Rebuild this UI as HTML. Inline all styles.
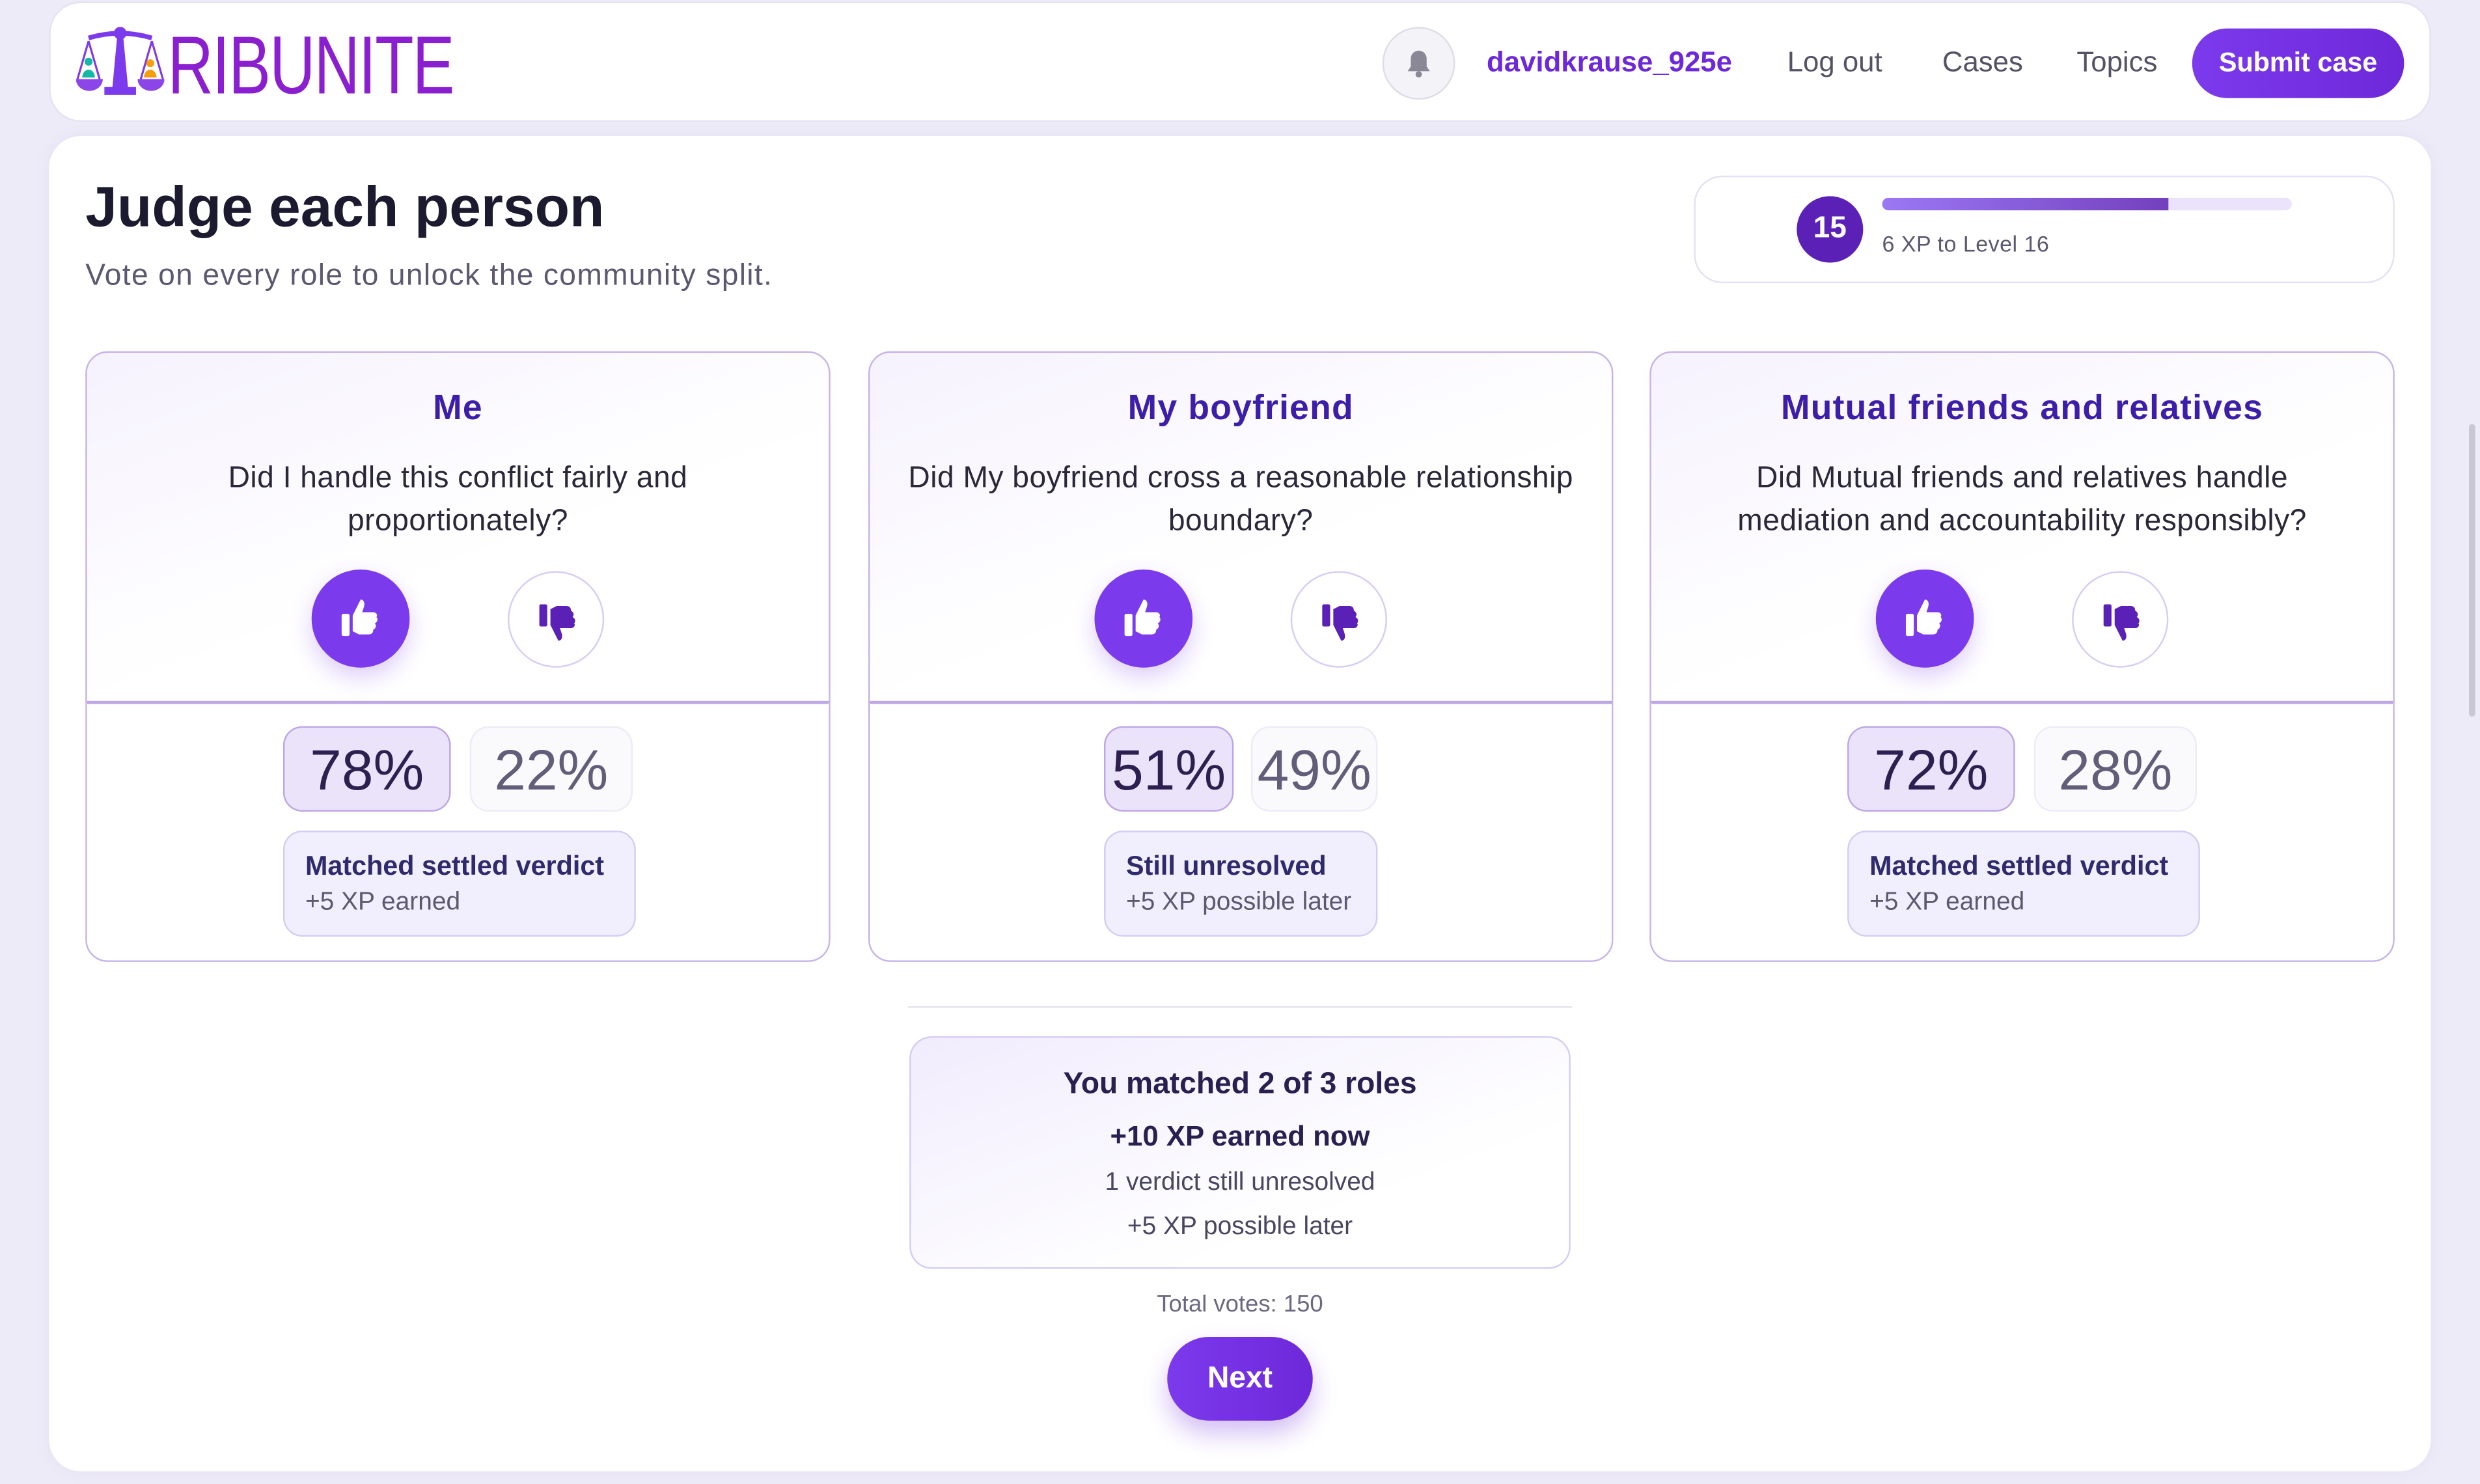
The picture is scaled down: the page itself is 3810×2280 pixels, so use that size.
<!DOCTYPE html>
<html><head><meta charset="utf-8"><style>
*{box-sizing:border-box;margin:0;padding:0}
html,body{width:3810px;height:2280px;overflow:hidden;background:#eeebf8;font-family:"Liberation Sans",sans-serif}
#s{position:absolute;left:0;top:0;width:1568px;height:938px;transform-origin:0 0;transform:scale(2.42985,2.4307);background:#eeebf8}
.a{position:absolute}
.hdr{left:31px;top:1px;width:1506px;height:76px;background:#fff;border-radius:20px;border:1px solid #e6e2f3}
.main{left:31px;top:86px;width:1506px;height:844px;background:#fff;border-radius:20px;box-shadow:0 0 10px rgba(120,100,200,.08)}
.nav{top:29px;font-size:18px;color:#555266}
.card{width:471px;height:386px;top:222px;border:1.5px solid #c6b3e8;border-radius:14px;background:linear-gradient(160deg,#f6f2fe 0%,#fff 40%);overflow:hidden}
.card .div{position:absolute;left:0;right:0;top:220px;height:1.5px;background:#bea8e4}
.card .bot{position:absolute;left:0;right:0;top:221px;bottom:0;background:#fff}
.ct{position:absolute;left:0;right:0;top:22px;text-align:center;font-size:22px;font-weight:bold;color:#3d1ea8;letter-spacing:.5px}
.cq{position:absolute;left:6px;right:6px;top:66px;text-align:center;font-size:19px;line-height:27px;color:#2a2838;letter-spacing:.2px}
.up{position:absolute;width:62px;height:62px;border-radius:50%;background:#7c3aed;top:137px;box-shadow:0 6px 14px rgba(124,58,237,.25)}
.dn{position:absolute;width:61px;height:61px;border-radius:50%;background:#fff;border:1.5px solid #d8cbf6;top:138px}
.up svg,.dn svg{position:absolute;left:15px;top:15px}
.pa{position:absolute;top:236px;height:54px;border-radius:12px;background:#ebe3fa;border:1.5px solid #bda6e6;font-size:36px;color:#2d1f50;text-align:center;line-height:54px}
.pb{position:absolute;top:236px;height:54px;border-radius:12px;background:#fafafd;border:1.5px solid #eeeaf8;font-size:36px;color:#625d78;text-align:center;line-height:54px}
.vb{position:absolute;top:302px;height:67px;border-radius:12px;background:#f1eefd;border:1.5px solid #d5ccf6;padding:12px 0 0 13px}
.vb b{display:block;font-size:17px;color:#2e2a6b;font-weight:bold}
.vb span{display:block;font-size:16px;color:#5c5870;margin-top:4px}
</style></head><body><div id="s">
<div class="a hdr"></div>
<div class="a" style="left:48px;top:14px;width:240px;height:50px">
<svg width="56" height="48" viewBox="0 0 56 48" style="position:absolute;left:0;top:2px"><path d="M8 8 Q28 2 48 8" stroke="#7c3aed" stroke-width="3" fill="none"/><circle cx="28" cy="5" r="4" fill="#7c3aed"/><path d="M26 8h4l3 32h-10z" fill="#7c3aed"/><rect x="18" y="39" width="20" height="5" fill="#7c3aed"/><path d="M8 10 L1 34 M8 10 L15 34 M48 10 L41 34 M48 10 L55 34" stroke="#7c3aed" stroke-width="1.3"/><path d="M0 34h17a8 7 0 0 1-17 0z" fill="#8b45e8"/><path d="M39 34h17a8 7 0 0 1-17 0z" fill="#8b45e8"/><circle cx="8" cy="23" r="2.5" fill="#14b8a6"/><path d="M4 33a4 5 0 0 1 8 0z" fill="#14b8a6"/><circle cx="47" cy="24" r="2.5" fill="#f59e0b"/><path d="M43 33a4 5 0 0 1 8 0z" fill="#f59e0b"/></svg>
<div style="position:absolute;left:58px;top:0;font-family:'Liberation Sans Narrow','Liberation Sans',sans-serif;font-size:52px;line-height:56px;color:#8a1fd0;transform:scaleX(.77);transform-origin:0 0;letter-spacing:-1px">RIBUNITE</div>
</div>
<div class="a" style="left:874px;top:17px;width:46px;height:46px;border-radius:50%;background:#f4f3f8;border:1px solid #dedce6"><svg width="16" height="18" viewBox="0 0 16 18" style="position:absolute;left:14px;top:13px"><path d="M8 1a5 5 0 0 1 5 5v5l2 3H1l2-3V6a5 5 0 0 1 5-5z" fill="#8a8797"/><circle cx="8" cy="16" r="2" fill="#8a8797"/></svg></div>
<div class="a nav" style="left:940px;color:#6d28d9;font-weight:bold">davidkrause_925e</div>
<div class="a nav" style="left:1130px">Log out</div>
<div class="a nav" style="left:1228px">Cases</div>
<div class="a nav" style="left:1313px">Topics</div>
<div class="a" style="left:1386px;top:18px;width:134px;height:44px;border-radius:22px;background:linear-gradient(90deg,#7c3aed,#6d28d9);color:#fff;font-weight:bold;font-size:17px;text-align:center;line-height:44px">Submit case</div>

<div class="a main"></div>
<div class="a" style="left:54px;top:110px;font-size:36px;font-weight:bold;color:#1c1a2e">Judge each person</div>
<div class="a" style="left:54px;top:164px;font-size:19px;color:#5c5870;letter-spacing:.55px">Vote on every role to unlock the community split.</div>

<div class="a" style="left:1071px;top:111px;width:443px;height:68px;border:1.5px solid #e5e0f5;border-radius:18px;background:#fff"></div>
<div class="a" style="left:1136px;top:124px;width:42px;height:42px;border-radius:50%;background:#5b21b6;color:#fff;font-weight:bold;font-size:19px;text-align:center;line-height:42px">15</div>
<div class="a" style="left:1190px;top:125px;width:259px;height:8px;border-radius:4px;background:#ebe3fc;overflow:hidden"><div style="width:181px;height:8px;background:linear-gradient(90deg,#9b78f5,#7440bd)"></div></div>
<div class="a" style="left:1190px;top:146px;font-size:14px;color:#5c5870;letter-spacing:.2px">6 XP to Level 16</div>

<div class="a card" style="left:54px">
<div class="bot"></div><div class="div"></div>
<div class="ct">Me</div>
<div class="cq">Did I handle this conflict fairly and<br>proportionately?</div>
<div class="up" style="left:142px"><svg width="32" height="32" viewBox="0 0 32 32"><rect x="4" y="13" width="5" height="14" rx="1" fill="#fff"/><path d="M11 14l5-10c2 0 3 2 2 5l-1 3h7c2 0 3 2 2 3 1 1 1 3-1 4 1 1 1 3-1 4 0 2-1 3-3 3h-6l-4-2z" fill="#fff"/></svg></div>
<div class="dn" style="left:266px"><svg width="32" height="32" viewBox="0 0 32 32" style="transform:scaleY(-1)"><rect x="4" y="13" width="5" height="14" rx="1" fill="#5b21b6"/><path d="M11 14l5-10c2 0 3 2 2 5l-1 3h7c2 0 3 2 2 3 1 1 1 3-1 4 1 1 1 3-1 4 0 2-1 3-3 3h-6l-4-2z" fill="#5b21b6"/></svg></div>
<div class="pa" style="left:124px;width:106px">78%</div>
<div class="pb" style="left:242px;width:103px">22%</div>
<div class="vb" style="left:124px;width:223px"><b>Matched settled verdict</b><span>+5 XP earned</span></div>
</div>

<div class="a card" style="left:549px">
<div class="bot"></div><div class="div"></div>
<div class="ct">My boyfriend</div>
<div class="cq">Did My boyfriend cross a reasonable relationship<br>boundary?</div>
<div class="up" style="left:142px"><svg width="32" height="32" viewBox="0 0 32 32"><rect x="4" y="13" width="5" height="14" rx="1" fill="#fff"/><path d="M11 14l5-10c2 0 3 2 2 5l-1 3h7c2 0 3 2 2 3 1 1 1 3-1 4 1 1 1 3-1 4 0 2-1 3-3 3h-6l-4-2z" fill="#fff"/></svg></div>
<div class="dn" style="left:266px"><svg width="32" height="32" viewBox="0 0 32 32" style="transform:scaleY(-1)"><rect x="4" y="13" width="5" height="14" rx="1" fill="#5b21b6"/><path d="M11 14l5-10c2 0 3 2 2 5l-1 3h7c2 0 3 2 2 3 1 1 1 3-1 4 1 1 1 3-1 4 0 2-1 3-3 3h-6l-4-2z" fill="#5b21b6"/></svg></div>
<div class="pa" style="left:148px;width:82px">51%</div>
<div class="pb" style="left:241px;width:80px">49%</div>
<div class="vb" style="left:148px;width:173px"><b>Still unresolved</b><span>+5 XP possible later</span></div>
</div>

<div class="a card" style="left:1043px">
<div class="bot"></div><div class="div"></div>
<div class="ct">Mutual friends and relatives</div>
<div class="cq">Did Mutual friends and relatives handle<br>mediation and accountability responsibly?</div>
<div class="up" style="left:142px"><svg width="32" height="32" viewBox="0 0 32 32"><rect x="4" y="13" width="5" height="14" rx="1" fill="#fff"/><path d="M11 14l5-10c2 0 3 2 2 5l-1 3h7c2 0 3 2 2 3 1 1 1 3-1 4 1 1 1 3-1 4 0 2-1 3-3 3h-6l-4-2z" fill="#fff"/></svg></div>
<div class="dn" style="left:266px"><svg width="32" height="32" viewBox="0 0 32 32" style="transform:scaleY(-1)"><rect x="4" y="13" width="5" height="14" rx="1" fill="#5b21b6"/><path d="M11 14l5-10c2 0 3 2 2 5l-1 3h7c2 0 3 2 2 3 1 1 1 3-1 4 1 1 1 3-1 4 0 2-1 3-3 3h-6l-4-2z" fill="#5b21b6"/></svg></div>
<div class="pa" style="left:124px;width:106px">72%</div>
<div class="pb" style="left:242px;width:103px">28%</div>
<div class="vb" style="left:124px;width:223px"><b>Matched settled verdict</b><span>+5 XP earned</span></div>
</div>

<div class="a" style="left:574px;top:636px;width:420px;height:1px;background:#e6e3ee"></div>
<div class="a" style="left:575px;top:655px;width:418px;height:147px;border:1.5px solid #d5ccf6;border-radius:14px;background:linear-gradient(160deg,#f1ecfd,#fff 70%);text-align:center">
<div style="position:absolute;left:0;right:0;top:19px;font-size:19px;font-weight:bold;color:#2a2050">You matched 2 of 3 roles</div>
<div style="position:absolute;left:0;right:0;top:52px;font-size:18px;font-weight:bold;color:#2a2050">+10 XP earned now</div>
<div style="position:absolute;left:0;right:0;top:83px;font-size:16px;color:#4a4660">1 verdict still unresolved</div>
<div style="position:absolute;left:0;right:0;top:111px;font-size:16px;color:#4a4660">+5 XP possible later</div>
</div>
<div class="a" style="left:574px;width:420px;top:816px;text-align:center;font-size:15px;color:#6b6880">Total votes: 150</div>
<div class="a" style="left:738px;top:845px;width:92px;height:53px;border-radius:27px;background:linear-gradient(90deg,#7c3aed,#6d28d9);color:#fff;font-weight:bold;font-size:19px;text-align:center;line-height:53px;box-shadow:0 8px 16px rgba(109,40,217,.3)">Next</div>
<div class="a" style="left:1561px;top:268px;width:4px;height:185px;border-radius:2px;background:#c9c7d2"></div>
</div></body></html>
